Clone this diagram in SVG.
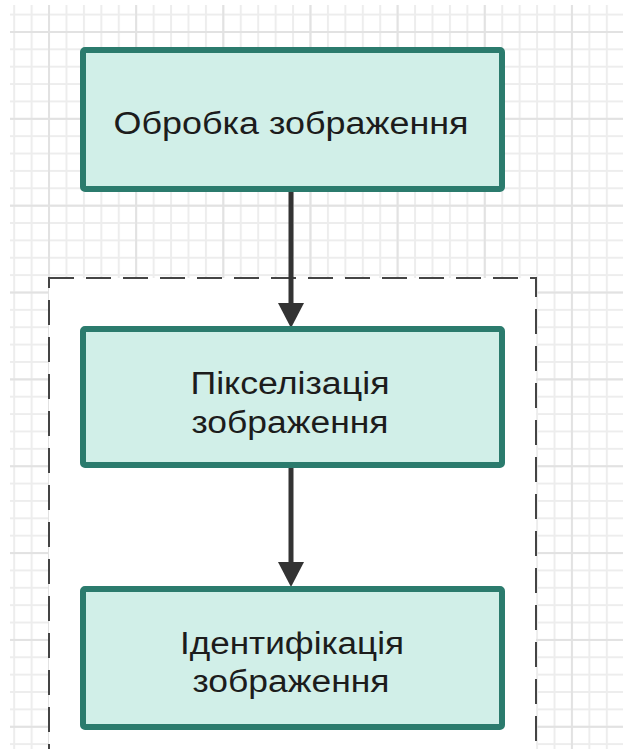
<svg xmlns="http://www.w3.org/2000/svg" width="623" height="749" viewBox="0 0 623 749">
  <defs>
    <!-- light squared paper: minor cells with a heavier line every fifth cell -->
    <pattern id="gridMinor" patternUnits="userSpaceOnUse" x="13.2" y="13.6" width="17.43" height="17.37">
      <path d="M1 0 V17.37 M0 1 H17.43" stroke="#ededed" stroke-width="2" fill="none"/>
    </pattern>
    <pattern id="gridMajor" patternUnits="userSpaceOnUse" x="48" y="31" width="87.15" height="86.85">
      <path d="M1 0 V86.85 M0 1 H87.15" stroke="#e2e2e2" stroke-width="2" fill="none"/>
    </pattern>
    <marker id="arrowHead" markerUnits="userSpaceOnUse" viewBox="0 0 25 26" refX="17" refY="13" markerWidth="25" markerHeight="26" orient="auto">
      <path d="M0 0 L25 13 L0 26 Z" fill="#333333"/>
    </marker>
    <style>
      .step rect { fill: #d1efe8; stroke: #2b7b6d; stroke-width: 6; }
      .step text { font-family: "Liberation Sans", Arial, sans-serif; font-size: 31px; fill: #1c1c1c; text-anchor: middle; }
      .flow line { stroke: #333333; stroke-width: 5; marker-end: url(#arrowHead); }
    </style>
  </defs>

  <!-- background and grid -->
  <rect width="623" height="749" fill="#ffffff"/>
  <rect x="10" y="5" width="613" height="744" fill="url(#gridMinor)"/>
  <rect x="10" y="5" width="613" height="744" fill="url(#gridMajor)"/>

  <!-- dashed grouping frame -->
  <g id="group-frame">
    <rect x="49" y="278" width="487" height="480" fill="#ffffff" stroke="#444444" stroke-width="2" stroke-dasharray="25 12"/>
  </g>

  <!-- connectors -->
  <g id="connectors" class="flow">
    <line x1="291" y1="192" x2="291" y2="320"/>
    <line x1="291" y1="468" x2="291" y2="579"/>
  </g>

  <!-- nodes -->
  <g id="node-processing" class="step">
    <rect x="83" y="50" width="419" height="139" rx="2"/>
    <text x="291" y="134" textLength="355" lengthAdjust="spacingAndGlyphs">Обробка зображення</text>
  </g>

  <g id="node-pixelization" class="step">
    <rect x="83" y="329" width="419" height="136" rx="2"/>
    <text x="290" y="394" textLength="199" lengthAdjust="spacingAndGlyphs">Пікселізація</text>
    <text x="290" y="433" textLength="197" lengthAdjust="spacingAndGlyphs">зображення</text>
  </g>

  <g id="node-identification" class="step">
    <rect x="83" y="589" width="419" height="138" rx="2"/>
    <text x="292" y="654" textLength="224" lengthAdjust="spacingAndGlyphs">Ідентифікація</text>
    <text x="291" y="692" textLength="197" lengthAdjust="spacingAndGlyphs">зображення</text>
  </g>
</svg>
